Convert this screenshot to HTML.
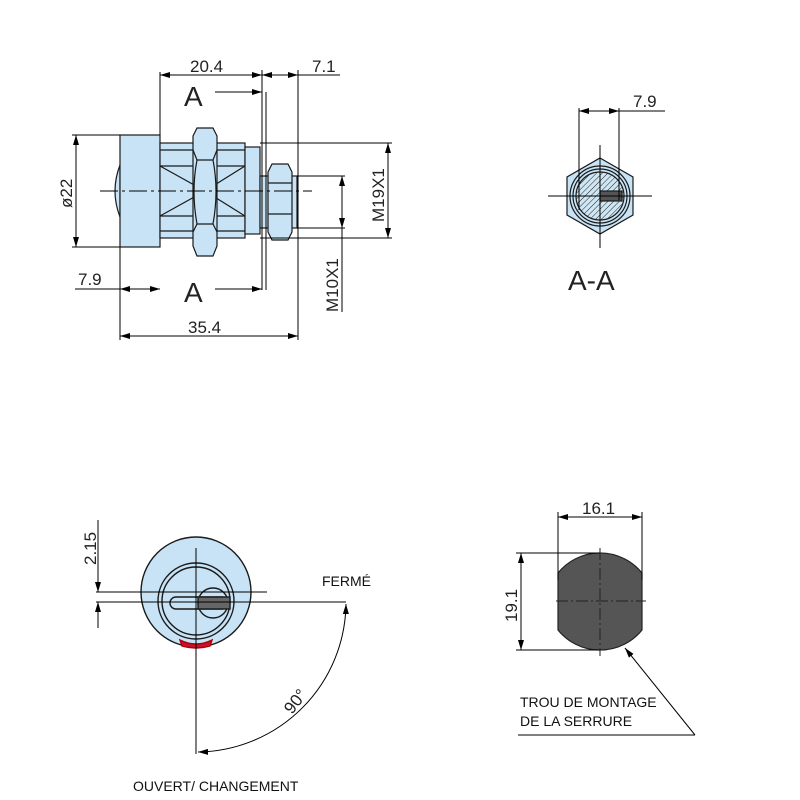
<!DOCTYPE html>
<html><head><meta charset="utf-8"><style>body{margin:0;background:#fff}svg{display:block}</style></head><body>
<svg width="800" height="800" viewBox="0 0 800 800" xmlns="http://www.w3.org/2000/svg" font-family="Liberation Sans, sans-serif">
<defs>
<marker id="ar" markerWidth="10" markerHeight="6" refX="10" refY="3" orient="auto-start-reverse" markerUnits="userSpaceOnUse"><path d="M0,0 L10,3 L0,6 z" fill="#000"/></marker>
<pattern id="h" width="4" height="4" patternUnits="userSpaceOnUse" patternTransform="rotate(45)"><rect width="4" height="4" fill="#cfe6f4"/><line x1="0" y1="0" x2="0" y2="4" stroke="#222" stroke-width="1"/></pattern>
</defs>
<g stroke="#1a1a1a" stroke-width="1.2" fill="#c7e3f5">
<path d="M120,165 Q110,191 120,217 Z"/>
<rect x="120" y="135" width="40" height="112"/>
<rect x="160" y="143" width="85" height="95"/>
<line x1="160" y1="150" x2="245" y2="150"/><line x1="160" y1="231" x2="245" y2="231"/>
<line x1="160" y1="166" x2="245" y2="166"/><line x1="160" y1="216" x2="245" y2="216"/>
<path d="M160,166 L205,191 L160,216 M245,166 L205,191 L245,216" fill="none"/>
<rect x="245" y="147" width="15" height="87"/>
<rect x="260" y="176" width="37" height="52"/>
<path d="M197,128 h16 l4,8 v110 l-4,10 h-16 l-4,-10 v-110 z"/>
<path d="M197,160 q-6,31 0,64 M213,160 q6,31 0,64 M193,150 l4,10 h16 l4,-10 M193,232 l4,-8 h16 l4,8" fill="none"/>
<path d="M272,164 h16 l4,8 v60 l-4,8 h-16 l-4,-8 v-60 z"/>
<path d="M268,183 h24 M268,214 h24" fill="none"/>
</g>
<g stroke="#000" stroke-width="1" fill="none">
<line x1="100" y1="191" x2="312" y2="191" stroke-dasharray="18,4,3,4"/>
<line x1="160" y1="72" x2="160" y2="135"/>
<line x1="262" y1="70" x2="262" y2="290"/>
<line x1="298" y1="70" x2="298" y2="340"/>
<line x1="120" y1="247" x2="120" y2="340"/>
<line x1="266" y1="92" x2="266" y2="290"/>
<line x1="160" y1="75" x2="262" y2="75" marker-start="url(#ar)" marker-end="url(#ar)"/>
<line x1="262" y1="75" x2="298" y2="75" marker-start="url(#ar)" marker-end="url(#ar)"/>
<line x1="298" y1="75" x2="340" y2="75"/>
<line x1="215" y1="92" x2="262" y2="92" marker-end="url(#ar)"/>
<line x1="215" y1="289" x2="262" y2="289" marker-end="url(#ar)"/>
<line x1="72" y1="135" x2="120" y2="135"/><line x1="72" y1="247" x2="120" y2="247"/>
<line x1="76" y1="135" x2="76" y2="247" marker-start="url(#ar)" marker-end="url(#ar)"/>
<line x1="260" y1="143" x2="392" y2="143"/><line x1="260" y1="238" x2="392" y2="238"/>
<line x1="388" y1="143" x2="388" y2="238" marker-start="url(#ar)" marker-end="url(#ar)"/>
<line x1="297" y1="176" x2="345" y2="176"/><line x1="297" y1="228" x2="345" y2="228"/>
<line x1="342" y1="176" x2="342" y2="228" marker-start="url(#ar)" marker-end="url(#ar)"/>
<line x1="342" y1="228" x2="342" y2="312"/>
<line x1="75" y1="289" x2="160" y2="289"/>
<line x1="150" y1="289" x2="120" y2="289" marker-end="url(#ar)"/>
<line x1="130" y1="289" x2="160" y2="289" marker-end="url(#ar)"/>
<line x1="120" y1="336" x2="298" y2="336" marker-start="url(#ar)" marker-end="url(#ar)"/>
</g>
<g font-size="17" fill="#222">
<text x="190" y="72">20.4</text>
<text x="312" y="72">7.1</text>
<text x="78" y="285">7.9</text>
<text x="188" y="333">35.4</text>
<text x="184" y="106" font-size="28">A</text>
<text x="184" y="302" font-size="28">A</text>
<text transform="translate(72,208) rotate(-90)">ø22</text>
<text transform="translate(384,222) rotate(-90)">M19X1</text>
<text transform="translate(338,312) rotate(-90)">M10X1</text>
</g>
<g stroke="#1a1a1a" stroke-width="1.2">
<path d="M600,158 L633,177 L633,215 L600,234 L567,215 L567,177 Z" fill="#c7e3f5"/>
<circle cx="600" cy="196" r="30" fill="#c7e3f5"/>
<circle cx="600" cy="196" r="27" fill="none"/>
<circle cx="600" cy="196" r="24" fill="url(#h)"/>
<rect x="600" y="191" width="22" height="10" fill="#555"/>
</g>
<g stroke="#000" stroke-width="1" fill="none">
<line x1="548" y1="196" x2="652" y2="196"/>
<line x1="600" y1="145" x2="600" y2="248"/>
<line x1="579" y1="108" x2="579" y2="210"/>
<line x1="619" y1="108" x2="619" y2="200"/>
<line x1="579" y1="111" x2="619" y2="111" marker-start="url(#ar)" marker-end="url(#ar)"/>
<line x1="619" y1="111" x2="665" y2="111"/>
</g>
<text x="633" y="107" font-size="17" fill="#222">7.9</text>
<text x="568" y="290" font-size="28" fill="#222">A-A</text>
<g stroke="#1a1a1a" stroke-width="1.4">
<circle cx="196" cy="592" r="55" fill="#c7e3f5"/>
<circle cx="196" cy="601" r="38" fill="none"/>
<circle cx="196" cy="601" r="34" fill="none"/>
<rect x="170" y="597" width="58" height="12" rx="6" fill="none"/>
<circle cx="213" cy="603" r="15" fill="none"/>
<rect x="198" y="597" width="32" height="12" fill="#666"/>
<path d="M180,640 Q196,648 212,640 L210,646 Q196,650 182,646 Z" fill="#c8102e" stroke="#a00"/>
</g>
<g stroke="#000" stroke-width="1" fill="none">
<line x1="96" y1="592" x2="267" y2="592"/>
<line x1="96" y1="602" x2="346" y2="602"/>
<line x1="196" y1="548" x2="196" y2="754"/>
<line x1="98" y1="520" x2="98" y2="592" marker-end="url(#ar)"/>
<line x1="98" y1="628" x2="98" y2="602" marker-end="url(#ar)"/>
<path d="M346,604 A150,150 0 0 1 198,752" marker-start="url(#ar)" marker-end="url(#ar)"/>
</g>
<text transform="translate(96,565) rotate(-90)" font-size="17" fill="#222">2.15</text>
<text x="322" y="586" font-size="14" fill="#111">FERMÉ</text>
<text transform="translate(292,715) rotate(-52)" font-size="17" fill="#222">90°</text>
<text x="133" y="791" font-size="14" fill="#111">OUVERT/ CHANGEMENT</text>
<path d="M558,573 A54,54 0 0 1 642,573 L642,630 A54,54 0 0 1 558,630 Z" fill="#555" stroke="#222" stroke-width="1.2"/>
<g stroke="#000" stroke-width="1" fill="none">
<line x1="558" y1="512" x2="558" y2="580"/>
<line x1="642" y1="512" x2="642" y2="580"/>
<line x1="558" y1="517" x2="642" y2="517" marker-start="url(#ar)" marker-end="url(#ar)"/>
<line x1="516" y1="553" x2="600" y2="553"/>
<line x1="516" y1="650" x2="600" y2="650"/>
<line x1="521" y1="553" x2="521" y2="650" marker-start="url(#ar)" marker-end="url(#ar)"/>
<line x1="556" y1="601" x2="646" y2="601" stroke="#222" stroke-dasharray="12,3,2,3"/>
<line x1="600" y1="548" x2="600" y2="656" stroke="#222" stroke-dasharray="12,3,2,3"/>
<line x1="695" y1="735" x2="625" y2="648" marker-end="url(#ar)"/>
<line x1="518" y1="735" x2="695" y2="735"/>
</g>
<text x="582" y="514" font-size="17" fill="#222">16.1</text>
<text transform="translate(517,622) rotate(-90)" font-size="17" fill="#222">19.1</text>
<text x="520" y="707" font-size="14" fill="#111">TROU DE MONTAGE</text>
<text x="520" y="726" font-size="14" fill="#111">DE LA SERRURE</text>
</svg>
</body></html>
